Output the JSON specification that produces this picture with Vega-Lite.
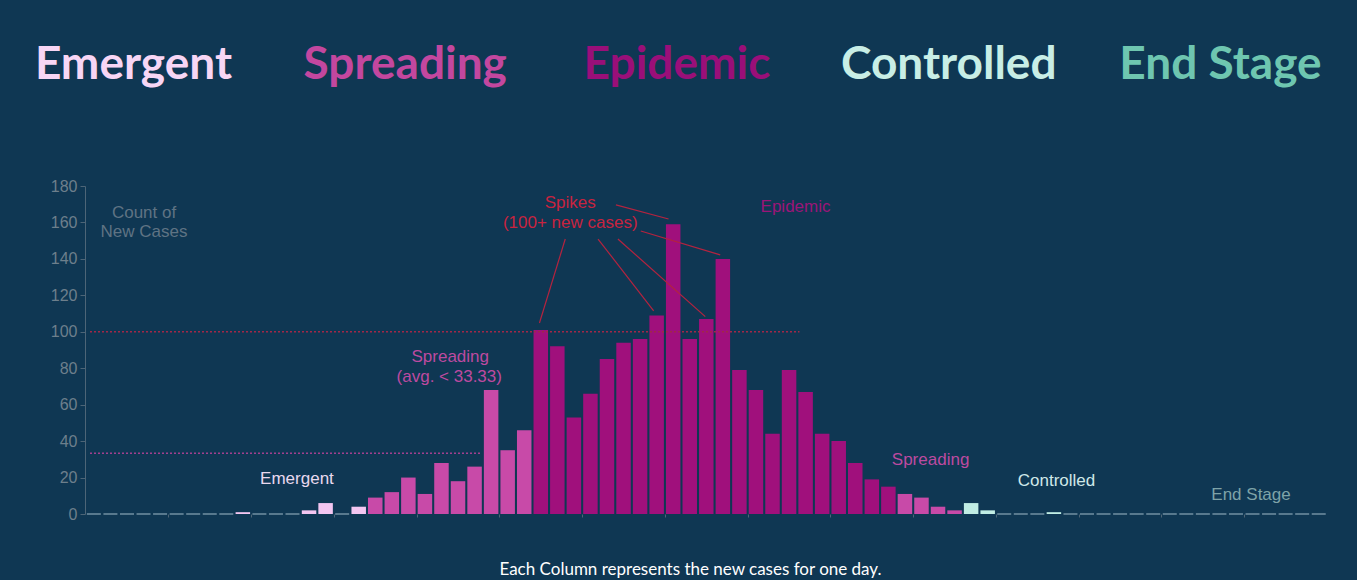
{
  "$schema": "https://vega.github.io/schema/vega-lite/v6.json",
  "background": "#0f3753",
  "padding": {"left": 34, "top": 0, "right": 40, "bottom": 10},
  "config": {"view": {"stroke": null}, "font": "Liberation Sans", "concat": {"spacing": 20}},
  "resolve": {"scale": {"fill": "independent", "color": "independent", "stroke": "independent"}},
  "datasets": {
    "days": [
      {"day": 0, "cases": 0, "stage": "Emergent"},
      {"day": 1, "cases": 0, "stage": "Emergent"},
      {"day": 2, "cases": 0, "stage": "Emergent"},
      {"day": 3, "cases": 0, "stage": "Emergent"},
      {"day": 4, "cases": 0, "stage": "Emergent"},
      {"day": 5, "cases": 0, "stage": "Emergent"},
      {"day": 6, "cases": 0, "stage": "Emergent"},
      {"day": 7, "cases": 0, "stage": "Emergent"},
      {"day": 8, "cases": 0, "stage": "Emergent"},
      {"day": 9, "cases": 1, "stage": "Emergent"},
      {"day": 10, "cases": 0, "stage": "Emergent"},
      {"day": 11, "cases": 0, "stage": "Emergent"},
      {"day": 12, "cases": 0, "stage": "Emergent"},
      {"day": 13, "cases": 2, "stage": "Emergent"},
      {"day": 14, "cases": 6, "stage": "Emergent"},
      {"day": 15, "cases": 0, "stage": "Emergent"},
      {"day": 16, "cases": 4, "stage": "Emergent"},
      {"day": 17, "cases": 9, "stage": "Spreading"},
      {"day": 18, "cases": 12, "stage": "Spreading"},
      {"day": 19, "cases": 20, "stage": "Spreading"},
      {"day": 20, "cases": 11, "stage": "Spreading"},
      {"day": 21, "cases": 28, "stage": "Spreading"},
      {"day": 22, "cases": 18, "stage": "Spreading"},
      {"day": 23, "cases": 26, "stage": "Spreading"},
      {"day": 24, "cases": 68, "stage": "Spreading"},
      {"day": 25, "cases": 35, "stage": "Spreading"},
      {"day": 26, "cases": 46, "stage": "Spreading"},
      {"day": 27, "cases": 101, "stage": "Epidemic"},
      {"day": 28, "cases": 92, "stage": "Epidemic"},
      {"day": 29, "cases": 53, "stage": "Epidemic"},
      {"day": 30, "cases": 66, "stage": "Epidemic"},
      {"day": 31, "cases": 85, "stage": "Epidemic"},
      {"day": 32, "cases": 94, "stage": "Epidemic"},
      {"day": 33, "cases": 96, "stage": "Epidemic"},
      {"day": 34, "cases": 109, "stage": "Epidemic"},
      {"day": 35, "cases": 159, "stage": "Epidemic"},
      {"day": 36, "cases": 96, "stage": "Epidemic"},
      {"day": 37, "cases": 107, "stage": "Epidemic"},
      {"day": 38, "cases": 140, "stage": "Epidemic"},
      {"day": 39, "cases": 79, "stage": "Epidemic"},
      {"day": 40, "cases": 68, "stage": "Epidemic"},
      {"day": 41, "cases": 44, "stage": "Epidemic"},
      {"day": 42, "cases": 79, "stage": "Epidemic"},
      {"day": 43, "cases": 67, "stage": "Epidemic"},
      {"day": 44, "cases": 44, "stage": "Epidemic"},
      {"day": 45, "cases": 40, "stage": "Epidemic"},
      {"day": 46, "cases": 28, "stage": "Epidemic"},
      {"day": 47, "cases": 19, "stage": "Epidemic"},
      {"day": 48, "cases": 15, "stage": "Epidemic"},
      {"day": 49, "cases": 11, "stage": "Spreading"},
      {"day": 50, "cases": 9, "stage": "Spreading"},
      {"day": 51, "cases": 4, "stage": "Spreading"},
      {"day": 52, "cases": 2, "stage": "Spreading"},
      {"day": 53, "cases": 6, "stage": "Controlled"},
      {"day": 54, "cases": 2, "stage": "Controlled"},
      {"day": 55, "cases": 0, "stage": "Controlled"},
      {"day": 56, "cases": 0, "stage": "Controlled"},
      {"day": 57, "cases": 0, "stage": "Controlled"},
      {"day": 58, "cases": 1, "stage": "Controlled"},
      {"day": 59, "cases": 0, "stage": "Controlled"},
      {"day": 60, "cases": 0, "stage": "Controlled"},
      {"day": 61, "cases": 0, "stage": "Controlled"},
      {"day": 62, "cases": 0, "stage": "Controlled"},
      {"day": 63, "cases": 0, "stage": "Controlled"},
      {"day": 64, "cases": 0, "stage": "End Stage"},
      {"day": 65, "cases": 0, "stage": "End Stage"},
      {"day": 66, "cases": 0, "stage": "End Stage"},
      {"day": 67, "cases": 0, "stage": "End Stage"},
      {"day": 68, "cases": 0, "stage": "End Stage"},
      {"day": 69, "cases": 0, "stage": "End Stage"},
      {"day": 70, "cases": 0, "stage": "End Stage"},
      {"day": 71, "cases": 0, "stage": "End Stage"},
      {"day": 72, "cases": 0, "stage": "End Stage"},
      {"day": 73, "cases": 0, "stage": "End Stage"},
      {"day": 74, "cases": 0, "stage": "End Stage"}
    ],
    "stages": [
      {"stage": "Emergent"},
      {"stage": "Spreading"},
      {"stage": "Epidemic"},
      {"stage": "Controlled"},
      {"stage": "End Stage"}
    ],
    "refs": [
      {"from": -0.234, "to": 42.63, "level": 100, "kind": "spike"},
      {"from": -0.234, "to": 23.33, "level": 33.33, "kind": "avg"}
    ],
    "leaders": [
      {"x": 28.48, "y": 150.9, "x2": 26.92, "y2": 104.8},
      {"x": 30.46, "y": 150.9, "x2": 33.82, "y2": 111.5},
      {"x": 31.66, "y": 150.9, "x2": 36.94, "y2": 108.3},
      {"x": 31.54, "y": 169.6, "x2": 34.72, "y2": 161.9},
      {"x": 33.04, "y": 155.3, "x2": 37.84, "y2": 142.2}
    ],
    "notes": [
      {"x": 3.03, "y": 165.2, "label": "Count of", "tone": "axis"},
      {"x": 3.03, "y": 154.8, "label": "New Cases", "tone": "axis"},
      {"x": 12.27, "y": 19.2, "label": "Emergent", "tone": "Emergent"},
      {"x": 21.53, "y": 86.2, "label": "Spreading", "tone": "Spreading"},
      {"x": 21.47, "y": 75.2, "label": "(avg. < 33.33)", "tone": "Spreading"},
      {"x": 28.78, "y": 170.7, "label": "Spikes", "tone": "Spikes"},
      {"x": 28.78, "y": 159.7, "label": "(100+ new cases)", "tone": "Spikes"},
      {"x": 42.39, "y": 168.5, "label": "Epidemic", "tone": "Epidemic"},
      {"x": 50.55, "y": 29.6, "label": "Spreading", "tone": "Spreading"},
      {"x": 58.16, "y": 18.1, "label": "Controlled", "tone": "Controlled"},
      {"x": 69.91, "y": 10.4, "label": "End Stage", "tone": "End Stage"}
    ]
  },
  "vconcat": [
    {
      "width": 1247,
      "height": 158,
      "data": {"name": "stages"},
      "mark": {"type": "text", "font": "Lato", "fontWeight": "bold", "fontSize": 46, "baseline": "alphabetic", "align": "center"},
      "encoding": {
        "x": {"field": "stage", "type": "nominal", "sort": null,
              "scale": {"type": "point", "domain": ["Emergent", "Spreading", "Epidemic", "Controlled", "End Stage"], "padding": 0.2944, "align": 0.303},
              "axis": null},
        "text": {"field": "stage"},
        "fill": {"field": "stage", "type": "nominal",
                 "scale": {"domain": ["Emergent", "Spreading", "Epidemic", "Controlled", "End Stage"],
                           "range": ["#f7d6f5", "#c3479f", "#9a0f79", "#c8eee6", "#6ec6b0"]},
                 "legend": null}
      }
    },
    {
      "width": 1247,
      "height": 328,
      "title": {"text": "Each Column represents the new cases for one day.", "orient": "bottom", "anchor": "middle", "frame": "group",
                "color": "#ffffff", "font": "Lato", "fontSize": 17, "fontWeight": "normal", "baseline": "top", "offset": 40, "dx": -18},
      "encoding": {
        "x": {"field": "day", "type": "quantitative",
              "scale": {"domain": [-0.234, 74.5], "nice": false, "zero": false},
              "axis": {"values": [4.5, 9.5, 14.5, 19.5, 24.5, 29.5, 34.5, 39.5, 44.5, 49.5, 54.5, 59.5, 64.5, 69.5],
                       "labels": false, "domain": false, "grid": false, "tickColor": "#4d6577", "tickSize": 3, "title": null}},
        "y": {"field": "cases", "type": "quantitative",
              "scale": {"domain": [0, 180], "nice": false},
              "axis": {"values": [0, 20, 40, 60, 80, 100, 120, 140, 160, 180], "grid": false,
                       "domainColor": "#4d6577", "tickColor": "#4d6577", "tickSize": 5,
                       "labelColor": "#6d7f8c", "labelFontSize": 16, "labelPadding": 3, "title": null}}
      },
      "layer": [
        {
          "data": {"name": "days"},
          "transform": [{"filter": "datum.cases == 0"}],
          "mark": {"type": "tick", "orient": "horizontal", "size": 14, "thickness": 2, "color": "#7896a8"},
          "encoding": {"x": {"field": "day", "type": "quantitative"}, "y": {"field": "cases", "type": "quantitative"}}
        },
        {
          "data": {"name": "days"},
          "transform": [{"filter": "datum.cases > 0"}],
          "mark": {"type": "bar", "size": 14.5},
          "encoding": {
            "x": {"field": "day", "type": "quantitative"},
            "y": {"field": "cases", "type": "quantitative"},
            "color": {"field": "stage", "type": "nominal",
                      "scale": {"domain": ["Emergent", "Spreading", "Epidemic", "Controlled", "End Stage"],
                                "range": ["#f3c6f1", "#c84aa8", "#a0107c", "#c0ede4", "#6bc4ae"]},
                      "legend": null}
          }
        },
        {
          "data": {"name": "refs"},
          "mark": {"type": "rule", "strokeDash": [2, 2], "strokeWidth": 1.6},
          "encoding": {
            "x": {"field": "from", "type": "quantitative"},
            "x2": {"field": "to"},
            "y": {"field": "level", "type": "quantitative"},
            "stroke": {"field": "kind", "type": "nominal",
                       "scale": {"domain": ["spike", "avg"], "range": ["#a02848", "#a2408f"]}, "legend": null}
          }
        },
        {
          "data": {"name": "leaders"},
          "mark": {"type": "rule", "color": "#b4233f", "strokeWidth": 1.2},
          "encoding": {
            "x": {"field": "x", "type": "quantitative"},
            "y": {"field": "y", "type": "quantitative"},
            "x2": {"field": "x2"},
            "y2": {"field": "y2"}
          }
        },
        {
          "data": {"name": "notes"},
          "mark": {"type": "text", "fontSize": 17, "baseline": "middle", "align": "center"},
          "encoding": {
            "x": {"field": "x", "type": "quantitative"},
            "y": {"field": "y", "type": "quantitative"},
            "text": {"field": "label"},
            "fill": {"field": "tone", "type": "nominal",
                     "scale": {"domain": ["axis", "Emergent", "Spreading", "Spikes", "Epidemic", "Controlled", "End Stage"],
                               "range": ["#5f7383", "#e9d9ee", "#bd4aa0", "#c8233f", "#9b1578", "#cfe8e8", "#7ea3a8"]},
                     "legend": null}
          }
        }
      ]
    }
  ]
}
